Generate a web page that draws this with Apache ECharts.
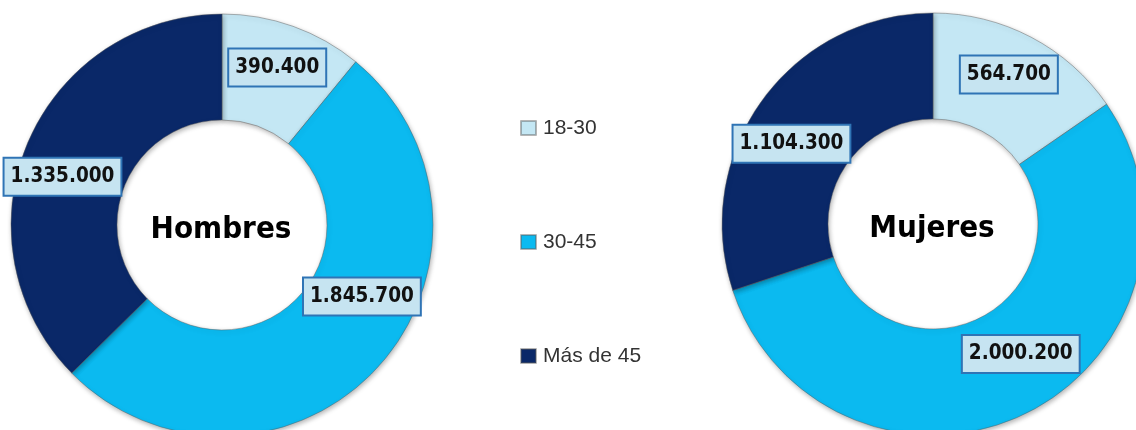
<!DOCTYPE html>
<html>
<head>
<meta charset="utf-8">
<script src="https://cdn.jsdelivr.net/npm/echarts@6/dist/echarts.min.js"></script>
<style>html,body{margin:0;padding:0;background:#fff;}#c{width:1136px;height:430px;}</style>
</head>
<body>
<div id="c"></div>
<script>
const categories = ['18-30', '30-45', 'Más de 45'];
const hombres = [390400, 1845700, 1335000];
const mujeres = [564700, 2000200, 1104300];
const groupNames = ['Hombres', 'Mujeres'];

const colors = ['#c4e7f4', '#0bbaf0', '#0a2868'];
const labelShift = [
  [[1, -6], [21, -37], [-11, 14]],
  [[1, -7], [16, -14], [-11, 14]]
];
function fmt(v) { return String(v).replace(/\B(?=(\d{3})+(?!\d))/g, '.'); }
const centers = [[222, 225], [933, 224]];
const chart = echarts.init(document.getElementById('c'));
chart.setOption({
  animation: false,
  color: colors,
  legend: {
    orient: 'vertical', left: 515, top: 112,
    data: categories, icon: 'rect', itemWidth: 15, itemHeight: 14, itemGap: 92,
    textStyle: { fontFamily: 'Liberation Sans', fontSize: 21, color: '#333', lineHeight: 22, padding: [0, 0, 0, 2] }
  },
  graphic: groupNames.map((g, i) => ({
    type: 'text', x: centers[i][0] - 1, y: centers[i][1] + 5,
    style: { text: g, fontFamily: 'DejaVu Sans Condensed', fontWeight: 'bold', fontSize: 31, fill: '#000', align: 'center', verticalAlign: 'middle' }
  })),
  series: [hombres, mujeres].map((vals, si) => ({
    type: 'pie', name: groupNames[si], center: centers[si], radius: [105, 211],
    startAngle: 90, clockwise: true, avoidLabelOverlap: false,
    itemStyle: { borderColor: 'rgba(90,90,90,0.45)', borderWidth: 1, shadowBlur: 5, shadowColor: 'rgba(0,0,0,0.3)', shadowOffsetY: 2, shadowOffsetX: 1 },
    label: {
      show: true, position: 'inside', formatter: p => fmt(p.value),
      fontFamily: 'DejaVu Sans Condensed', fontWeight: 'bold', fontSize: 20.5, color: '#111',
      backgroundColor: '#c6e4f1', borderColor: '#2f74b5', borderWidth: 2,
      padding: [8, 6, 7, 6]
    },
    labelLine: { show: false },
    labelLayout: p => ({ dx: labelShift[si][p.dataIndex][0], dy: labelShift[si][p.dataIndex][1] }),
    data: vals.map((v, i) => ({ name: categories[i], value: v }))
  }))
});
</script>
</body>
</html>
